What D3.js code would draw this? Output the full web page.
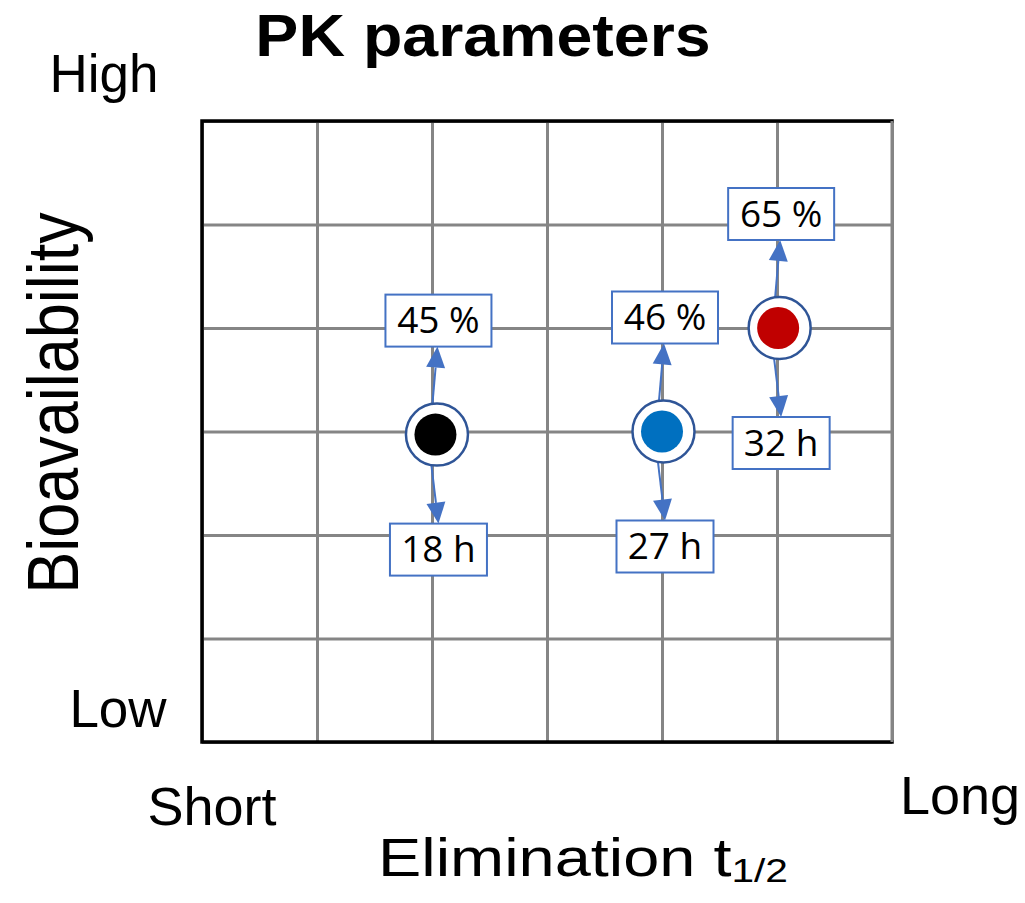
<!DOCTYPE html>
<html>
<head>
<meta charset="utf-8">
<script src="https://cdn.jsdelivr.net/npm/d3@7"></script>
<style>
  body { margin: 0; background: #fff; }
  svg { display: block; }
</style>
</head>
<body>
<svg id="chart" width="1025" height="903"></svg>
<script>
// data, in grid units (6 x 6 qualitative grid)
const drugs = ["A", "B", "C"];
const halfLifePos = [2.03, 4.0, 5.01];
const bioavailPos = [2.97, 3.0, 4.0];
const dotColors = ["#000000", "#0070c0", "#c00000"];
const bioavailLabels = ["45 %", "46 %", "65 %"];
const halfLifeLabels = ["18 h", "27 h", "32 h"];
const gridTicks = [0, 1, 2, 3, 4, 5, 6];

const svg = d3.select("#chart");
const plotL = 202, plotR = 892, plotT = 121, plotB = 742;

const x = d3.scaleLinear().domain([0, 6]).range([plotL, plotR]);
const y = d3.scaleLinear().domain([0, 6]).range([plotB, plotT]);

const gridColor = "#858585";
const arrowColor = "#4472c4";

// grid
const gx = svg.append("g")
  .attr("transform", `translate(0,${plotB})`)
  .call(d3.axisBottom(x).tickValues(gridTicks).tickSize(-(plotB - plotT)).tickFormat(""));
const gy = svg.append("g")
  .attr("transform", `translate(${plotL},0)`)
  .call(d3.axisLeft(y).tickValues(gridTicks).tickSize(-(plotR - plotL)).tickFormat(""));
[gx, gy].forEach(g => {
  g.select(".domain").remove();
  g.selectAll(".tick line").attr("stroke", gridColor).attr("stroke-width", 3);
});

// black frame on left, top, bottom
svg.append("path")
  .attr("d", `M${x(6)},${y(6)}H${x(0)}V${y(0)}H${x(6)}`)
  .attr("fill", "none")
  .attr("stroke", "#000")
  .attr("stroke-width", 3.5)
  .attr("stroke-linecap", "square");
svg.append("line")
  .attr("x1", x(6)).attr("x2", x(6)).attr("y1", y(6)).attr("y2", y(0))
  .attr("stroke", gridColor).attr("stroke-width", 3);

// text labels
const font = "'Liberation Sans', Arial, sans-serif";
svg.append("text")
  .attr("transform", "translate(483,56) scale(1.075,1)")
  .attr("text-anchor", "middle")
  .attr("font-family", font).attr("font-weight", "bold").attr("font-size", 60)
  .text("PK parameters");
svg.append("text").attr("x", 104).attr("y", 92).attr("text-anchor", "middle")
  .attr("font-family", font).attr("font-size", 53).text("High");
svg.append("text").attr("x", 118).attr("y", 727).attr("text-anchor", "middle")
  .attr("font-family", font).attr("font-size", 53).text("Low");
svg.append("text").attr("x", 212).attr("y", 825).attr("text-anchor", "middle")
  .attr("font-family", font).attr("font-size", 54).text("Short");
svg.append("text").attr("x", 960).attr("y", 814).attr("text-anchor", "middle")
  .attr("font-family", font).attr("font-size", 54).text("Long");

svg.append("text")
  .attr("transform", "translate(78,403) rotate(-90) scale(1,1.15)")
  .attr("text-anchor", "middle")
  .attr("font-family", font).attr("font-size", 63).text("Bioavailability");

const xt = svg.append("text")
  .attr("transform", "translate(378,876) scale(1.1,0.92)")
  .attr("font-family", font).attr("font-size", 59);
xt.append("tspan").text("Elimination t");
xt.append("tspan").attr("font-size", 37).attr("dy", 6).text("1/2");

// points
const pts = drugs.map((d, i) => ({
  cx: x(halfLifePos[i]), cy: y(bioavailPos[i]),
  color: dotColors[i], up: bioavailLabels[i], down: halfLifeLabels[i]
}));

function arrow(x1, y1, x2, y2) {
  const a = Math.atan2(y2 - y1, x2 - x1);
  const len = 21, half = 9.5;
  const bx = x2 - len * Math.cos(a), by = y2 - len * Math.sin(a);
  svg.append("line")
    .attr("x1", x1).attr("y1", y1).attr("x2", bx).attr("y2", by)
    .attr("stroke", arrowColor).attr("stroke-width", 2);
  const p = [
    [x2, y2],
    [bx + half * Math.sin(a), by - half * Math.cos(a)],
    [bx - half * Math.sin(a), by + half * Math.cos(a)]
  ];
  svg.append("path").attr("d", "M" + p.join("L") + "Z").attr("fill", arrowColor);
}

function box(cx, cy, w, h, label) {
  svg.append("rect")
    .attr("x", cx - w / 2).attr("y", cy - h / 2).attr("width", w).attr("height", h)
    .attr("fill", "#fff").attr("stroke", arrowColor).attr("stroke-width", 2);
  svg.append("text")
    .attr("x", cx).attr("y", cy + 12.5).attr("text-anchor", "middle")
    .attr("font-family", "'Open Sans', sans-serif").attr("font-size", 37)
    .attr("fill", "#000").text(label);
}

pts.forEach(p => {
  const upCy = p.cy - 114, downCy = p.cy + 115;
  arrow(p.cx - 3, p.cy - 31, p.cx + 2, upCy + 26);
  arrow(p.cx - 4, p.cy + 31, p.cx + 3, downCy - 26);
  svg.append("circle")
    .attr("cx", p.cx + 1.5).attr("cy", p.cy).attr("r", 31)
    .attr("fill", "#fff").attr("stroke", "#2f5597").attr("stroke-width", 2.5);
  svg.append("circle")
    .attr("cx", p.cx).attr("cy", p.cy).attr("r", 21)
    .attr("fill", p.color);
  box(p.cx + 3, upCy, 106, 52, p.up);
  box(p.cx + 3, downCy, 97, 52, p.down);
});
</script>
</body>
</html>
